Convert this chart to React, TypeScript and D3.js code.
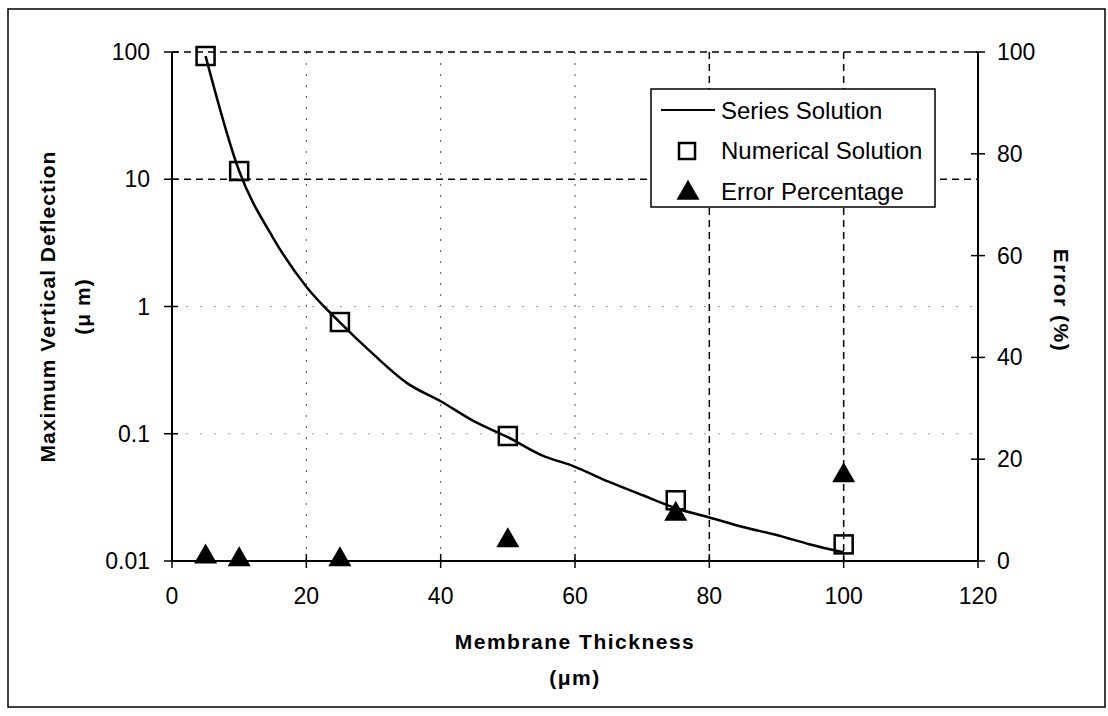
import * as d3 from "d3";

// Membrane thickness (um) where the series curve was sampled
const seriesThickness = [5, 10, 15, 20, 25, 30, 35, 40, 45, 50, 55, 60, 65, 70, 75, 80, 85, 90, 95, 100];
// Max vertical deflection (um), series solution
const seriesDeflection = [
  93, 11.6, 3.5, 1.43, 0.75, 0.42, 0.25, 0.18, 0.125, 0.094, 0.068, 0.055, 0.042, 0.033, 0.026,
  0.022, 0.0185, 0.016, 0.0135, 0.0117,
];

// Numerical solution points
const numThickness = [5, 10, 25, 50, 75, 100];
const numDeflection = [93, 11.6, 0.755, 0.096, 0.03, 0.0135];

// Error percentage (right axis)
const errorPercent = [0.8, 0.3, 0.3, 4.0, 9.2, 16.8];

const xTicks = [0, 20, 40, 60, 80, 100, 120];
const yTicks = [0.01, 0.1, 1, 10, 100];
const yTickLabels = ["0.01", "0.1", "1", "10", "100"];
const errTicks = [0, 20, 40, 60, 80, 100];

const legendItems = ["Series Solution", "Numerical Solution", "Error Percentage"];

const FONT = "'Liberation Sans', Arial, sans-serif";

export default function App() {
  const width = 1108;
  const height = 716;
  // plot bounds in page pixels
  const left = 172;
  const right = 978;
  const top = 52;
  const bottom = 561;

  const xScale = d3.scaleLinear().domain([0, 120]).range([left, right]);
  const yScale = d3.scaleLog().domain([0.01, 100]).range([bottom, top]);
  const errScale = d3.scaleLinear().domain([0, 100]).range([bottom, top]);

  const line = d3
    .line<number>()
    .x((_, i) => xScale(seriesThickness[i]))
    .y((d) => yScale(d))
    .curve(d3.curveMonotoneX);

  const tri = d3.symbol().type(d3.symbolTriangle).size(230)();

  // gridline styles: heavier dashed at some, faint dotted at others
  const vGridDashed = [80, 100];
  const vGridDotted = [20, 40, 60];
  const hGridDashed = [10, 100];
  const hGridDotted = [0.1, 1];

  const lx = 651;
  const ly = 89;

  return (
    <svg
      width={width}
      height={height}
      style={{ position: "absolute", left: 0, top: 0, background: "#fff" }}
      fontFamily={FONT}
    >
      <rect x={8} y={9} width={1097} height={698} fill="none" stroke="#000" strokeWidth={1.5} />

      {/* grid */}
      {vGridDotted.map((v) => (
        <line key={"vd" + v} x1={xScale(v)} x2={xScale(v)} y1={top} y2={bottom}
          stroke="#555" strokeWidth={1} strokeDasharray="2 9" />
      ))}
      {vGridDashed.map((v) => (
        <line key={"vD" + v} x1={xScale(v)} x2={xScale(v)} y1={top} y2={bottom}
          stroke="#000" strokeWidth={1.5} strokeDasharray="7 5" />
      ))}
      {hGridDotted.map((v) => (
        <line key={"hd" + v} x1={left} x2={right} y1={yScale(v)} y2={yScale(v)}
          stroke="#999" strokeWidth={1} strokeDasharray="2 12" />
      ))}
      {hGridDashed.map((v) => (
        <line key={"hD" + v} x1={left} x2={right} y1={yScale(v)} y2={yScale(v)}
          stroke="#000" strokeWidth={1.5} strokeDasharray="7 5" />
      ))}

      {/* axes */}
      <line x1={left} x2={left} y1={top} y2={bottom} stroke="#000" strokeWidth={2} />
      <line x1={right} x2={right} y1={top} y2={bottom} stroke="#000" strokeWidth={2} />
      <line x1={left} x2={right} y1={bottom} y2={bottom} stroke="#000" strokeWidth={2} />

      {yTicks.map((t, i) => (
        <g key={"yt" + t}>
          <line x1={left - 8} x2={left + 6} y1={yScale(t)} y2={yScale(t)} stroke="#000" strokeWidth={1.5} />
          <text x={150} y={yScale(t)} textAnchor="end" dominantBaseline="central" fontSize={23}>
            {yTickLabels[i]}
          </text>
        </g>
      ))}
      {errTicks.map((t) => (
        <g key={"et" + t}>
          <line x1={right - 7} x2={right + 7} y1={errScale(t)} y2={errScale(t)} stroke="#000" strokeWidth={1.5} />
          <text x={997} y={errScale(t)} dominantBaseline="central" fontSize={23}>
            {t}
          </text>
        </g>
      ))}
      {xTicks.map((t) => (
        <g key={"xt" + t}>
          <line x1={xScale(t)} x2={xScale(t)} y1={bottom - 7} y2={bottom + 7} stroke="#000" strokeWidth={1.5} />
          <text x={xScale(t)} y={596} textAnchor="middle" dominantBaseline="central" fontSize={23}>
            {t}
          </text>
        </g>
      ))}

      {/* axis titles */}
      <text x={(left + right) / 2} y={641} textAnchor="middle" dominantBaseline="central"
        fontSize={21} fontWeight="bold" letterSpacing={1.5}>
        Membrane Thickness
      </text>
      <text x={(left + right) / 2} y={677} textAnchor="middle" dominantBaseline="central"
        fontSize={21} fontWeight="bold" letterSpacing={1.5}>
        (μm)
      </text>
      <g transform={`translate(47,${(top + bottom) / 2}) rotate(-90)`}>
        <text textAnchor="middle" dominantBaseline="central" fontSize={21} fontWeight="bold" letterSpacing={1}>
          Maximum Vertical Deflection
        </text>
      </g>
      <g transform={`translate(82,${(top + bottom) / 2}) rotate(-90)`}>
        <text textAnchor="middle" dominantBaseline="central" fontSize={21} fontWeight="bold" letterSpacing={1}>
          (μ m)
        </text>
      </g>
      <g transform={`translate(1061,${(top + bottom) / 2 - 6}) rotate(90)`}>
        <text textAnchor="middle" dominantBaseline="central" fontSize={21} fontWeight="bold" letterSpacing={1.5}>
          Error  (%)
        </text>
      </g>

      {/* series */}
      <path d={line(seriesDeflection) || ""} fill="none" stroke="#000" strokeWidth={2.5} />
      {numThickness.map((t, i) => (
        <rect key={"sq" + t} x={xScale(t) - 9} y={yScale(numDeflection[i]) - 9} width={18} height={18}
          fill="none" stroke="#000" strokeWidth={2.5} />
      ))}
      {numThickness.map((t, i) => (
        <path key={"tr" + t} d={tri || ""} transform={`translate(${xScale(t)},${errScale(errorPercent[i])})`} fill="#000" />
      ))}

      {/* legend */}
      <rect x={lx} y={ly} width={284} height={118} fill="#fff" stroke="#000" strokeWidth={1.5} />
      <line x1={661} x2={715} y1={110} y2={110} stroke="#000" strokeWidth={2} />
      <rect x={679} y={143} width={16} height={16} fill="none" stroke="#000" strokeWidth={2.5} />
      <path d={tri || ""} transform="translate(688,193)" fill="#000" />
      {legendItems.map((name, i) => (
        <text key={name} x={721} y={110 + i * 40.5} dominantBaseline="central" fontSize={24}>
          {name}
        </text>
      ))}
    </svg>
  );
}
